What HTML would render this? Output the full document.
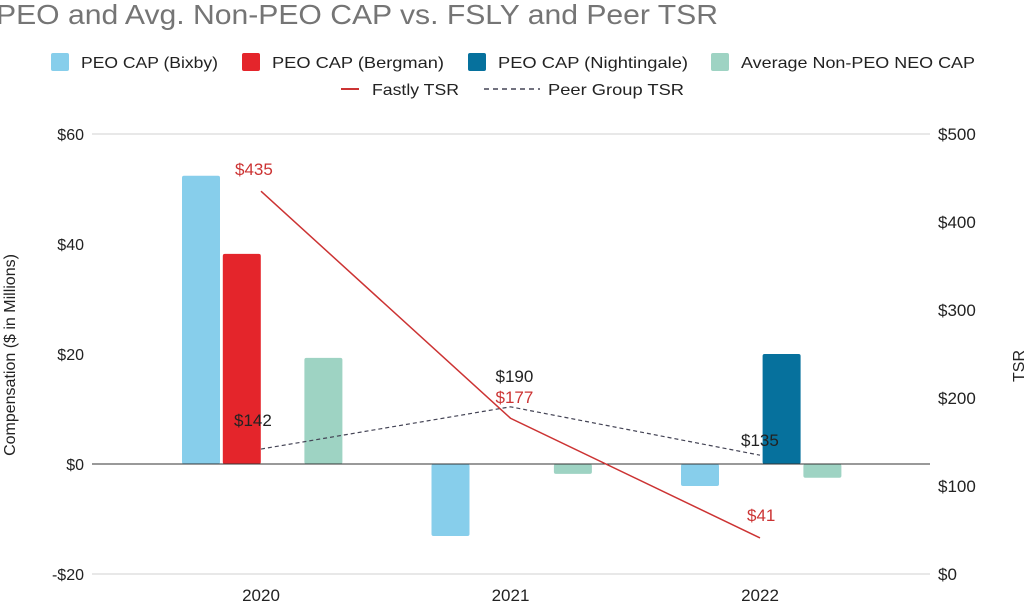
<!DOCTYPE html>
<html><head><meta charset="utf-8"><style>
body{margin:0;background:#fff;width:1024px;height:602px;overflow:hidden;font-family:"Liberation Sans",sans-serif}
</style></head><body>
<svg id="chart" width="1024" height="602" xmlns="http://www.w3.org/2000/svg" font-family="Liberation Sans, sans-serif">
<text x="-4" y="24" font-size="28" fill="#757575" textLength="722" lengthAdjust="spacingAndGlyphs">PEO and Avg. Non-PEO CAP vs. FSLY and Peer TSR</text>
<g font-size="16" fill="#222">
<rect x="51" y="53" width="18" height="18" rx="2" fill="#87CEEB"/><text x="81" y="68" textLength="137" lengthAdjust="spacingAndGlyphs">PEO CAP (Bixby)</text>
<rect x="242" y="53" width="18" height="18" rx="2" fill="#E4252B"/><text x="272" y="68" textLength="172" lengthAdjust="spacingAndGlyphs">PEO CAP (Bergman)</text>
<rect x="468" y="53" width="18" height="18" rx="2" fill="#06719D"/><text x="498" y="68" textLength="190" lengthAdjust="spacingAndGlyphs">PEO CAP (Nightingale)</text>
<rect x="711" y="53" width="18" height="18" rx="2" fill="#9ED3C3"/><text x="741" y="68" textLength="234" lengthAdjust="spacingAndGlyphs">Average Non-PEO NEO CAP</text>
<line x1="341" y1="89" x2="359" y2="89" stroke="#CC3333" stroke-width="2"/><text x="372" y="95" textLength="87" lengthAdjust="spacingAndGlyphs">Fastly TSR</text>
<line x1="484" y1="89" x2="540" y2="89" stroke="#445" stroke-width="1.5" stroke-dasharray="5,4"/><text x="548" y="95" textLength="136" lengthAdjust="spacingAndGlyphs">Peer Group TSR</text>
</g>
<g id="axes"></g><g id="bars"></g><g id="lines"></g>
<text transform="translate(15,355) rotate(-90)" text-anchor="middle" font-size="16" fill="#222">Compensation ($ in Millions)</text>
<text transform="translate(1024,366) rotate(-90)" text-anchor="middle" font-size="16" fill="#222">TSR</text>
</svg>
<script>
const years=["2020","2021","2022"];
const bixby=[52.4,-13.1,-4];
const bergman=[38.2,null,null];
const nightingale=[null,null,20];
const avgNeo=[19.3,-1.8,-2.5];
const fastlyTSR=[435,177,41];
const peerTSR=[142,190,135];
const leftTicks=[60,40,20,0,-20];
const rightTicks=[500,400,300,200,100,0];
const NS="http://www.w3.org/2000/svg";
const yL=v=>464-v*5.5, yR=v=>574-v*0.88, xC=i=>261+i*249.5;
function mk(tag,attrs,parent,txt){const e=document.createElementNS(NS,tag);for(const k in attrs)e.setAttribute(k,attrs[k]);if(txt!=null)e.textContent=txt;document.getElementById(parent).appendChild(e);return e;}
leftTicks.forEach((t,i)=>{
 if(i===0||i===leftTicks.length-1){const g=mk('line',{x1:92,x2:930,y1:yL(t),y2:yL(t),stroke:'#d0d0d0'},'axes');
 
 }
 const l=mk('text',{x:84,y:yL(t)+6,'text-anchor':'end','font-size':16,fill:'#222'},'axes',(t<0?'-$':'$')+Math.abs(t));
 
 
});
rightTicks.forEach(t=>{const l=mk('text',{x:938,y:yR(t)+6,'font-size':17,fill:'#222'},'axes','$'+t);
 
 });
years.forEach((y,i)=>{const l=mk('text',{x:xC(i),y:601,'text-anchor':'middle','font-size':17,fill:'#222'},'axes',y);
 
 });
const series=[[bixby,'#87CEEB','bixby'],[bergman,'#E4252B','bergman'],[nightingale,'#06719D','nightingale'],[avgNeo,'#9ED3C3','avg-neo']];
series.forEach((s,si)=>{s[0].forEach((v,i)=>{if(v==null)return;
 const x=xC(i)-79+si*40.8;const y0=Math.min(yL(v),yL(0));const h=Math.abs(yL(v)-yL(0));
 const r=mk('rect',{x:x,y:y0,width:38,height:h,rx:2,fill:s[1]},'bars');
 
 });});
const z=mk('line',{x1:92,x2:930,y1:yL(0),y2:yL(0),stroke:'#333','stroke-width':1},'bars');


function line(vals,color,dash,name,labelColor,offs){
 const p=mk('polyline',{points:vals.map((v,i)=>xC(i)+','+yR(v)).join(' '),fill:'none',stroke:color,'stroke-width':dash?1.2:1.5,'stroke-dasharray':dash||''},'lines');
 
 
 vals.forEach((v,i)=>{const t=mk('text',{x:xC(i)-6+offs[i][0],y:yR(v)+offs[i][1],'font-size':17,fill:labelColor},'lines','$'+v);
 
 });
}
line(peerTSR,'#445','4,3','peer-tsr','#222',[[-21,-23],[-9,-25],[-13,-9]]);
line(fastlyTSR,'#CC3333',null,'fastly-tsr','#CC3333',[[-20,-16],[-9,-15],[-7,-17]]);
</script>
</body></html>
